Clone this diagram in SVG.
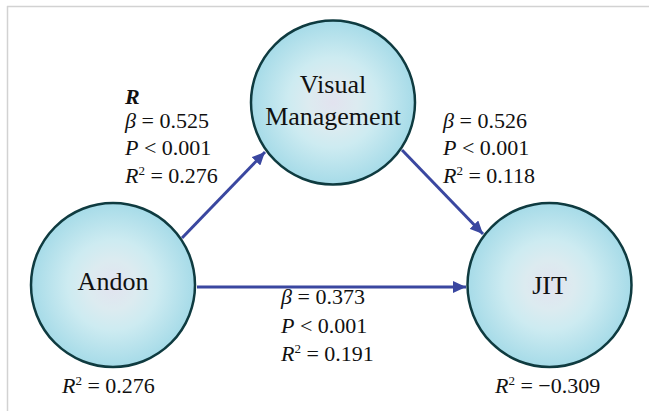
<svg xmlns="http://www.w3.org/2000/svg" width="649" height="411" viewBox="0 0 649 411">
<defs>
<radialGradient id="g" cx="0.5" cy="0.5" r="0.5">
<stop offset="0" stop-color="#e2e3ef"/>
<stop offset="0.3" stop-color="#dcebf0"/>
<stop offset="0.55" stop-color="#cdebf1"/>
<stop offset="1" stop-color="#a6dbe8"/>
</radialGradient>
<marker id="ah" markerUnits="userSpaceOnUse" markerWidth="14" markerHeight="12" refX="13" refY="6" orient="auto">
<path d="M0,0 L13,6 L0,12 Z" fill="#3a47a0"/>
</marker>
<style>
.node{fill:url(#g);stroke:#0f3b40;stroke-width:2.5}
.lbl{font-size:26px;fill:#111;text-anchor:middle}
.st{font-size:22px;fill:#111}
.it{font-style:italic}
.edge{stroke:#3a47a0;stroke-width:3;fill:none;marker-end:url(#ah)}
</style>
</defs>
<rect width="649" height="411" fill="#fff"/>
<path d="M7,6.5 H649 M7.5,6 V411" stroke="#d2d2d2" stroke-width="1.5" fill="none"/>
<g id="connectors">
<line class="edge" x1="182" y1="238" x2="265" y2="152"/>
<line class="edge" x1="402" y1="150" x2="483" y2="234"/>
<line class="edge" x1="197" y1="287" x2="466" y2="287"/>
</g>
<g font-family="'Liberation Serif', 'Times New Roman', serif">
<g id="visual-management">
<circle class="node" cx="333" cy="102.5" r="82"/>
<text class="lbl" x="333" y="93">Visual</text>
<text class="lbl" x="333" y="125">Management</text>
</g>
<g id="andon">
<circle class="node" cx="113" cy="285" r="82"/>
<text class="lbl" x="113" y="290">Andon</text>
</g>
<g id="jit">
<circle class="node" cx="549.5" cy="285" r="82"/>
<text class="lbl" x="549.5" y="294">JIT</text>
</g>
<g id="stats">
<text class="st" x="125" y="104" font-weight="bold" font-style="italic">R</text>
<text class="st" x="125" y="128"><tspan class="it">β</tspan> = 0.525</text>
<text class="st" x="125" y="155"><tspan class="it">P</tspan> &lt; 0.001</text>
<text class="st" x="125" y="183"><tspan class="it">R</tspan><tspan font-size="13" dy="-8">2</tspan><tspan dy="8"> = 0.276</tspan></text>
<text class="st" x="443" y="128"><tspan class="it">β</tspan> = 0.526</text>
<text class="st" x="443" y="155"><tspan class="it">P</tspan> &lt; 0.001</text>
<text class="st" x="443" y="183"><tspan class="it">R</tspan><tspan font-size="13" dy="-8">2</tspan><tspan dy="8"> = 0.118</tspan></text>
<text class="st" x="281" y="304"><tspan class="it">β</tspan> = 0.373</text>
<text class="st" x="281" y="333"><tspan class="it">P</tspan> &lt; 0.001</text>
<text class="st" x="281" y="361"><tspan class="it">R</tspan><tspan font-size="13" dy="-8">2</tspan><tspan dy="8"> = 0.191</tspan></text>
<text class="st" x="62" y="393"><tspan class="it">R</tspan><tspan font-size="13" dy="-8">2</tspan><tspan dy="8"> = 0.276</tspan></text>
<text class="st" x="495" y="393"><tspan class="it">R</tspan><tspan font-size="13" dy="-8">2</tspan><tspan dy="8"> = −0.309</tspan></text>
</g>
</g>
</svg>
